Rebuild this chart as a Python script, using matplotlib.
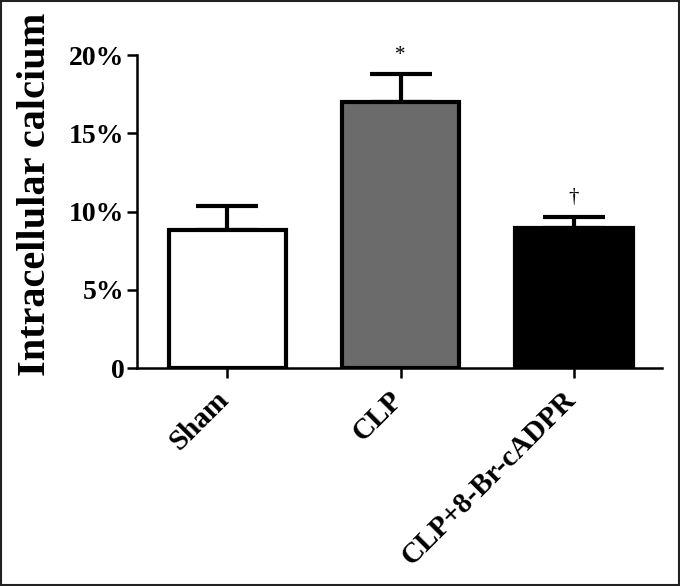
import numpy as np
import matplotlib.pyplot as plt
import matplotlib.transforms as mtransforms
from matplotlib.patches import Rectangle

# data (percent)
groups = ['Sham', 'CLP', 'CLP+8-Br-cADPR']
means = [8.82, 17.0, 8.95]
sem = [1.53, 1.76, 0.70]
marks = ['', '*', '\u2020']
fills = ['white', '#6b6b6b', 'black']

plt.rcParams['font.family'] = 'Liberation Serif'
plt.rcParams['font.weight'] = 'bold'

fig = plt.figure(figsize=(6.8, 5.86), dpi=100)
ax = fig.add_axes([0.2015, 0.372, 0.772, 0.534])

x = np.arange(len(groups))
ax.bar(x, means, width=0.675, color=fills, edgecolor='black', linewidth=3, zorder=2)
ax.errorbar(x, means, yerr=[np.zeros(len(sem)), sem], fmt='none', ecolor='black',
            elinewidth=3, capsize=22, capthick=3, zorder=1)

for xi, m, s, t in zip(x, means, sem, marks):
    if t:
        ax.annotate(t, (xi, m + s), xytext=(0, 7), textcoords='offset points',
                    ha='center', va='bottom', fontsize=15, fontweight='normal')

ax.set_xlim(-0.519, 2.507)
ax.set_ylim(0, 20)
ax.set_yticks([0, 5, 10, 15, 20])
ax.set_yticklabels(['0', '5%', '10%', '15%', '20%'], fontsize=20, fontweight='bold')
ax.set_xticks(x)
ax.set_xticklabels(groups, rotation=45, ha='right', rotation_mode='anchor',
                   fontsize=21, fontweight='bold')

ax.set_ylabel('Intracellular calcium', fontsize=29, fontweight='bold')
ax.yaxis.set_label_coords(-0.158, 0.556)

for side in ['top', 'right']:
    ax.spines[side].set_visible(False)
ax.spines['left'].set_linewidth(1.8)
ax.spines['bottom'].set_linewidth(1.8)
ax.tick_params(direction='out', length=7, width=1.8)
ax.tick_params(axis='y', pad=2)

# nudge rotated labels so their ends sit under the ticks (after tick_params, which resets transforms)
shift = mtransforms.ScaledTranslation(-12 / 100, -3 / 100, fig.dpi_scale_trans)
for lbl in ax.xaxis.get_majorticklabels():
    lbl.set_transform(lbl.get_transform() + shift)

# thin frame around the whole picture
fig.patches.append(Rectangle((0.002, 0.002), 0.996, 0.996, transform=fig.transFigure,
                             fill=False, edgecolor='#222222', linewidth=1.5))

fig.savefig('out.png', dpi=100)
